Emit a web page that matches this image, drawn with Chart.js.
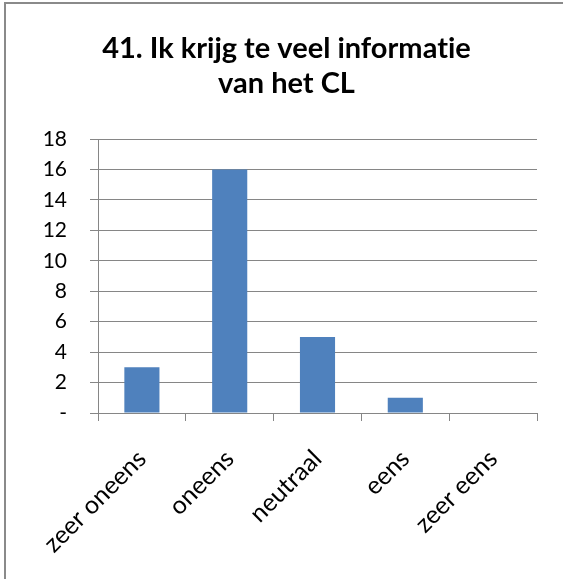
<!DOCTYPE html>
<html>
<head>
<meta charset="utf-8">
<style>
  html, body { margin: 0; padding: 0; background: #fff; }
  #wrap { width: 563px; height: 579px; position: relative; }
</style>
<script src="https://cdn.jsdelivr.net/npm/chart.js@4/dist/chart.umd.min.js"></script>
</head>
<body>
<div id="wrap"><canvas id="chart" width="563" height="579"></canvas></div>
<script>
// Survey answers for statement 41
const categories = ['zeer oneens', 'oneens', 'neutraal', 'eens', 'zeer eens'];
const counts = [3, 16, 5, 1, 0];
const yTickValues = [0, 2, 4, 6, 8, 10, 12, 14, 16, 18];
const yTickLabels = ['-', '2', '4', '6', '8', '10', '12', '14', '16', '18'];
const titleLines = ['41. Ik krijg te veel informatie', 'van het CL'];

const FONT = 'Lato, "Open Sans", sans-serif';
const GRID = '#868686';

// white page with the frame line along the left and top edge
const framePlugin = {
  id: 'frame',
  beforeDraw(chart) {
    const ctx = chart.ctx;
    // plain glyphs, no "ti" ligature
    ctx.textRendering = 'optimizeSpeed';
    ctx.save();
    ctx.fillStyle = '#ffffff';
    ctx.fillRect(0, 0, chart.width, chart.height);
    ctx.strokeStyle = '#8a8a8a';
    ctx.lineWidth = 2;
    ctx.beginPath();
    ctx.moveTo(5, chart.height);
    ctx.lineTo(5, 3);
    ctx.lineTo(chart.width, 3);
    ctx.stroke();
    ctx.restore();
  }
};

new Chart(document.getElementById('chart'), {
  type: 'bar',
  data: {
    labels: categories,
    datasets: [{
      data: counts,
      backgroundColor: '#4F81BD',
      borderWidth: 0,
      barPercentage: 0.4,
      categoryPercentage: 1.0
    }]
  },
  options: {
    responsive: false,
    animation: false,
    devicePixelRatio: 1,
    layout: { padding: { left: 36, right: 26, top: 0, bottom: 0 } },
    plugins: {
      legend: { display: false },
      tooltip: { enabled: false },
      title: {
        display: true,
        text: titleLines,
        color: '#000',
        font: { family: FONT, size: 29, weight: 'bold', lineHeight: 1.207 },
        padding: { top: 31, bottom: 38 }
      }
    },
    scales: {
      x: {
        offset: true,
        grid: {
          offset: true,
          drawOnChartArea: false,
          drawTicks: true,
          tickLength: 8,
          color: GRID
        },
        border: { color: GRID, width: 1 },
        ticks: {
          color: '#000',
          font: { family: FONT, size: 25 },
          minRotation: 45,
          maxRotation: 45,
          padding: 23
        },
        afterFit(scale) { scale.height = 166; }
      },
      y: {
        min: 0,
        max: 18,
        afterBuildTicks(scale) {
          scale.ticks = yTickValues.map(v => ({ value: v }));
        },
        grid: {
          color: GRID,
          tickLength: 8,
          drawTicks: true
        },
        border: { color: GRID, width: 1 },
        ticks: {
          color: '#000',
          font: { family: FONT, size: 21 },
          padding: 23,
          callback(value) {
            const i = yTickValues.indexOf(value);
            return i >= 0 ? yTickLabels[i] : '';
          }
        },
        afterFit(scale) { scale.width = 62; }
      }
    }
  },
  plugins: [framePlugin]
});
</script>
</body>
</html>
